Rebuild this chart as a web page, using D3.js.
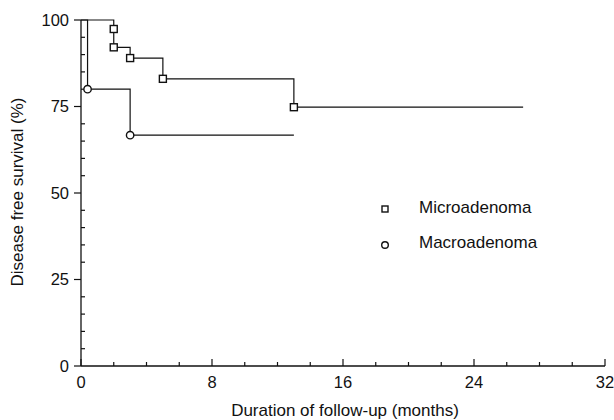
<!DOCTYPE html>
<html>
<head>
<meta charset="utf-8">
<script src="https://cdn.jsdelivr.net/npm/d3@7"></script>
<style>
    body { margin: 0; background: #fff; }
    text { font-family: "Liberation Sans", Arial, sans-serif; fill: #111; }
</style>
</head>
<body>
<div id="chart"></div>
<script>
// survival curves (months, %)
var microTime = [0, 2, 2, 3, 5, 13, 27];
var microSurv = [100, 97.4, 92.1, 89, 83, 74.8, 74.8];
var microMarks = [1, 2, 3, 4, 5]; // index of points with a square

var macroTime = [0, 0.4, 3, 13];
var macroSurv = [100, 80, 66.7, 66.7];
var macroMarks = [1, 2];

var xTicks = [0, 8, 16, 24, 32];
var xMinor = [2, 4, 6, 10, 12, 14, 18, 20, 22, 26, 28, 30];
var yTicks = [0, 25, 50, 75, 100];
var yMinor = [5, 10, 15, 20, 30, 35, 40, 45, 55, 60, 65, 70, 80, 85, 90, 95];

var seriesNames = ["Microadenoma", "Macroadenoma"];

var width = 614, height = 420;
var margin = { top: 20, right: 9, bottom: 54, left: 81 };

var svg = d3.select("#chart").append("svg")
    .attr("width", width)
    .attr("height", height);

var x = d3.scaleLinear().domain([0, 32]).range([margin.left, width - margin.right]);
var y = d3.scaleLinear().domain([0, 100]).range([height - margin.bottom, margin.top]);

var ink = "#111";

// x axis - ticks point up into the plot
var xAxis = svg.append("g")
    .attr("transform", `translate(0,${y(0)})`);
xAxis.append("line")
    .attr("x1", x(0)).attr("x2", x(32))
    .attr("stroke", ink).attr("stroke-width", 1.3);
xAxis.selectAll(".xmaj").data(xTicks).enter().append("line")
    .attr("x1", d => x(d)).attr("x2", d => x(d))
    .attr("y1", 0).attr("y2", -7)
    .attr("stroke", ink).attr("stroke-width", 1.2);
xAxis.selectAll(".xmin").data(xMinor).enter().append("line")
    .attr("x1", d => x(d)).attr("x2", d => x(d))
    .attr("y1", 0).attr("y2", -4)
    .attr("stroke", ink).attr("stroke-width", 1.2);
xAxis.selectAll(".xlab").data(xTicks).enter().append("text")
    .attr("x", d => x(d)).attr("y", 22)
    .attr("text-anchor", "middle")
    .attr("font-size", "16.5px")
    .text(d => d);

// y axis
var yAxis = svg.append("g")
    .attr("transform", `translate(${x(0)},0)`);
yAxis.append("line")
    .attr("y1", y(0)).attr("y2", y(100))
    .attr("stroke", ink).attr("stroke-width", 1.3);
yAxis.selectAll(".ymaj").data(yTicks).enter().append("line")
    .attr("y1", d => y(d)).attr("y2", d => y(d))
    .attr("x1", 0).attr("x2", -7)
    .attr("stroke", ink).attr("stroke-width", 1.2);
yAxis.selectAll(".ymin").data(yMinor).enter().append("line")
    .attr("y1", d => y(d)).attr("y2", d => y(d))
    .attr("x1", 0).attr("x2", 4)
    .attr("stroke", ink).attr("stroke-width", 1.2);
yAxis.selectAll(".ylab").data(yTicks).enter().append("text")
    .attr("x", -12).attr("y", d => y(d))
    .attr("dy", "0.36em")
    .attr("text-anchor", "end")
    .attr("font-size", "16.5px")
    .text(d => d);

// axis titles
svg.append("text")
    .attr("x", 345).attr("y", 416)
    .attr("text-anchor", "middle")
    .attr("font-size", "17px")
    .text("Duration of follow-up (months)");

svg.append("text")
    .attr("transform", `translate(23,192) rotate(-90)`)
    .attr("text-anchor", "middle")
    .attr("font-size", "17px")
    .text("Disease free survival (%)");

// step curves
var line = d3.line()
    .x(d => x(d[0]))
    .y(d => y(d[1]))
    .curve(d3.curveStepAfter);

var micro = microTime.map((t, i) => [t, microSurv[i]]);
var macro = macroTime.map((t, i) => [t, macroSurv[i]]);

svg.append("path").datum(macro)
    .attr("d", line)
    .attr("fill", "none").attr("stroke", ink).attr("stroke-width", 1.2);
svg.append("path").datum(micro)
    .attr("d", line)
    .attr("fill", "none").attr("stroke", ink).attr("stroke-width", 1.2);

var sq = 7;
svg.selectAll(".sq").data(microMarks.map(i => micro[i])).enter().append("rect")
    .attr("x", d => x(d[0]) - sq / 2)
    .attr("y", d => y(d[1]) - sq / 2)
    .attr("width", sq).attr("height", sq)
    .attr("fill", "#fff").attr("stroke", ink).attr("stroke-width", 1.4);

svg.selectAll(".ci").data(macroMarks.map(i => macro[i])).enter().append("circle")
    .attr("cx", d => x(d[0]))
    .attr("cy", d => y(d[1]))
    .attr("r", 3.7)
    .attr("fill", "#fff").attr("stroke", ink).attr("stroke-width", 1.4);

// legend
var legend = svg.append("g");
legend.append("rect")
    .attr("x", 385 - 3).attr("y", 209 - 3)
    .attr("width", 6).attr("height", 6)
    .attr("fill", "#fff").attr("stroke", ink).attr("stroke-width", 1.4);
legend.append("circle")
    .attr("cx", 385).attr("cy", 245)
    .attr("r", 3.3)
    .attr("fill", "#fff").attr("stroke", ink).attr("stroke-width", 1.4);
legend.selectAll(".lt").data(seriesNames).enter().append("text")
    .attr("x", 419)
    .attr("y", (d, i) => 207 + i * 35)
    .attr("dy", "0.36em")
    .attr("font-size", "17px")
    .text(d => d);
</script>
</body>
</html>
